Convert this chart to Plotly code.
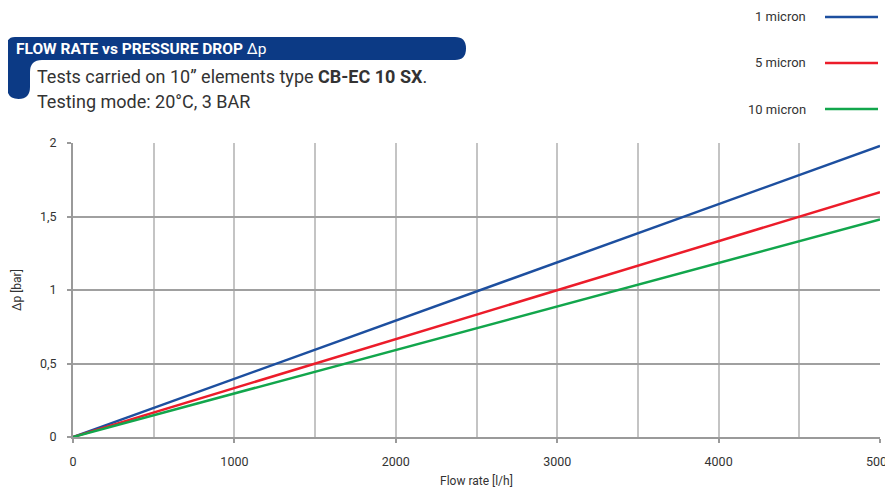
import plotly.graph_objects as go

# ---- data ----
flow_rate = [0, 5000]                      # l/h
dp_1_micron = [0, 1.98]                    # bar
dp_5_micron = [0, 1.665]
dp_10_micron = [0, 1.48]
series_names = ["1 micron", "5 micron", "10 micron"]
series_colors = ["#1d4f9f", "#ec1c2a", "#12a64c"]

OFF = 8  # page body margin
W, H = 893 - OFF, 490 - OFF
L, R, T, B = 73 - OFF, 13, 143 - OFF, 53
PW, PH = W - L - R, H - T - B

def px(x):
    return (x - OFF - L) / PW

def py(y):
    return (H - B - (y - OFF)) / PH

FONT = "Roboto, Liberation Sans, Arial, sans-serif"

fig = go.Figure()
for name, ys, col in zip(series_names, [dp_1_micron, dp_5_micron, dp_10_micron], series_colors):
    fig.add_trace(go.Scatter(x=flow_rate, y=ys, mode="lines", name=name,
                             line=dict(color=col, width=2.5), showlegend=False))

shapes = []
# banner path (page pixel coords converted to paper)
pts = [
    ("M", 15, 37), ("L", 455, 37), ("Q", 466, 37, 466, 48.5), ("Q", 466, 60, 455, 60),
    ("L", 42, 60), ("Q", 30, 60, 30, 72), ("L", 30, 87), ("Q", 30, 99, 18.5, 99),
    ("Q", 7, 99, 7, 87), ("L", 7, 45), ("Q", 7, 37, 15, 37),
]
path = ""
for p in pts:
    cmd = p[0]
    coords = p[1:]
    segs = []
    for i in range(0, len(coords), 2):
        segs.append(f"{px(coords[i]):.5f},{py(coords[i+1]):.5f}")
    path += cmd + " " + " ".join(segs) + " "
path += "Z"
shapes.append(dict(type="path", xref="paper", yref="paper", path=path,
                   fillcolor="#0c3a85", line=dict(width=0), layer="above"))

annotations = [
    dict(x=px(14), y=py(49), xref="paper", yref="paper", xanchor="left", yanchor="middle",
         text="<b>FLOW RATE vs PRESSURE DROP</b> Δp", showarrow=False,
         font=dict(family=FONT, size=15.5, color="white")),
    dict(x=px(35), y=py(77), xref="paper", yref="paper", xanchor="left", yanchor="middle",
         text="Tests carried on 10” elements type <b>CB-EC 10 SX</b>.", showarrow=False,
         font=dict(family=FONT, size=18, color="#333333")),
    dict(x=px(35), y=py(101), xref="paper", yref="paper", xanchor="left", yanchor="middle",
         text="Testing mode: 20°C, 3 BAR", showarrow=False,
         font=dict(family=FONT, size=18, color="#333333")),
    dict(x=px(17), y=py(290), xref="paper", yref="paper", xanchor="center", yanchor="middle",
         text="Δp [bar]", textangle=-90, showarrow=False,
         font=dict(family=FONT, size=12, color="#333333")),
    dict(x=px(476), y=py(481), xref="paper", yref="paper", xanchor="center", yanchor="middle",
         text="Flow rate [l/h]", showarrow=False,
         font=dict(family=FONT, size=12, color="#333333")),
]

# custom legend (label left of line sample)
for i, (name, col) in enumerate(zip(series_names, series_colors)):
    yy = 17 + i * 46
    annotations.append(dict(x=px(808), y=py(yy), xref="paper", yref="paper",
                            xanchor="right", yanchor="middle", text=name, showarrow=False,
                            font=dict(family=FONT, size=13, color="#333333")))
    shapes.append(dict(type="line", xref="paper", yref="paper",
                       x0=px(825), x1=px(878), y0=py(yy), y1=py(yy),
                       line=dict(color=col, width=2.5)))

fig.update_layout(
    width=W, height=H,
    margin=dict(l=L, r=R, t=T, b=B, pad=0, autoexpand=False),
    paper_bgcolor="white", plot_bgcolor="white",
    separators=",.",
    font=dict(family=FONT, size=12, color="#333333"),
    shapes=shapes, annotations=annotations,
    xaxis=dict(range=[0, 5000], dtick=1000, tick0=0, showgrid=True, gridcolor="#c4c4c4",
               gridwidth=1.5, minor=dict(dtick=500, showgrid=True, gridcolor="#c4c4c4", gridwidth=1.5),
               showline=True, linecolor="#9a9a9a", linewidth=2, ticks="outside", ticklen=4,
               tickcolor="#9a9a9a", tickwidth=1.5, zeroline=False, ticklabeloverflow="allow",
               automargin=False,
               ticklabelstandoff=8, tickfont=dict(size=12.5, color="#333333"), fixedrange=True),
    yaxis=dict(range=[0, 2], dtick=0.5, tick0=0, showgrid=True, gridcolor="#a0a0a0",
               gridwidth=2, showline=True, linecolor="#9a9a9a", linewidth=2, automargin=False,
               ticks="outside", ticklen=4, tickcolor="#9a9a9a", tickwidth=1.5, zeroline=False,
               ticklabelstandoff=8, tickfont=dict(size=12.5, color="#333333"), fixedrange=True),
)

fig.write_html("out.html")
